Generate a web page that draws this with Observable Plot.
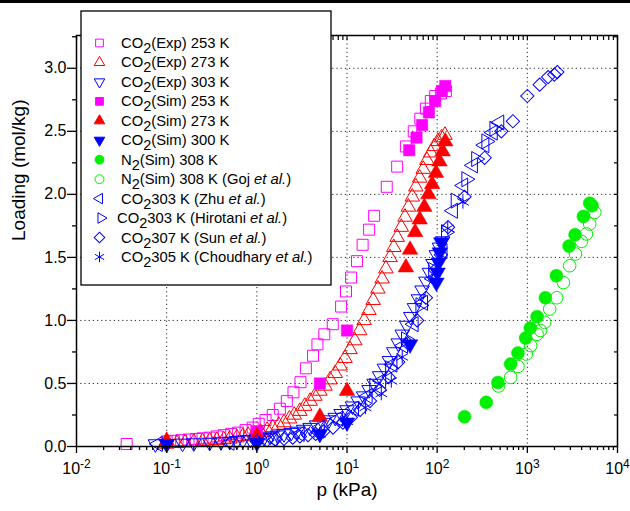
<!DOCTYPE html>
<html><head><meta charset="utf-8">
<script src="https://cdn.jsdelivr.net/npm/d3@7"></script>
<script src="https://cdn.jsdelivr.net/npm/@observablehq/plot@0.6"></script>
<style>
body{margin:0;background:#fff;}
#wrap{position:relative;width:630px;height:511px;}
#topbar{position:absolute;left:0;top:0;width:630px;height:3px;background:#000;}
svg text{font-family: "Liberation Sans", Arial, sans-serif;}
</style></head><body><div id="wrap"><div id="chart"></div><div id="topbar"></div></div>
<script>
// ---- data: [pressure kPa, loading mol/kg] ----
const co2Exp253 = [[0.036,0.02],[0.1,0.04],[0.12,0.045],[0.145,0.05],[0.175,0.055],[0.21,0.06],[0.25,0.065],[0.3,0.07],[0.36,0.08],[0.43,0.09],[0.52,0.1],[0.62,0.11],[0.75,0.13],[0.9,0.15],[1.05,0.18],[1.25,0.21],[1.5,0.25],[1.8,0.3],[2.15,0.36],[2.55,0.43],[3.05,0.51],[3.5,0.62],[4.2,0.72],[4.7,0.81],[5.6,0.89],[6.95,0.97],[8.6,1.11],[9.75,1.23],[11.1,1.34],[12.9,1.47],[14.9,1.6],[17.6,1.72],[20,1.83],[27.6,2.06],[36,2.22],[45,2.38],[55,2.5],[65,2.6],[75,2.68],[85,2.74],[95,2.78],[110,2.8],[125,2.82]];
const co2Exp273 = [[0.1,0.02],[0.13,0.025],[0.16,0.03],[0.2,0.035],[0.25,0.04],[0.3,0.045],[0.36,0.05],[0.43,0.055],[0.5,0.06],[0.6,0.07],[0.7,0.08],[0.8,0.09],[0.95,0.1],[1.1,0.115],[1.3,0.13],[1.5,0.15],[1.75,0.17],[2.0,0.19],[2.3,0.22],[2.6,0.25],[3.0,0.28],[3.4,0.32],[3.9,0.36],[4.4,0.4],[5.0,0.44],[5.7,0.48],[6.5,0.53],[7.4,0.58],[8.4,0.64],[9.5,0.7],[10.8,0.77],[12.2,0.84],[13.8,0.92],[15.5,1.0],[17.5,1.08],[19.5,1.16],[22,1.25],[24.5,1.33],[27,1.41],[30,1.5],[33,1.58],[36,1.66],[40,1.74],[44,1.82],[48,1.9],[53,1.98],[58,2.06],[64,2.13],[70,2.2],[77,2.27],[85,2.33],[93,2.38],[102,2.42],[112,2.45],[122,2.47]];
const co2Exp303 = [[0.075,0.02],[0.1,0.022],[0.15,0.025],[0.2,0.028],[0.3,0.032],[0.4,0.036],[0.5,0.04],[0.6,0.045],[0.7,0.05],[0.85,0.055],[1.0,0.06],[1.2,0.07],[1.4,0.08],[1.7,0.09],[2.0,0.1],[2.4,0.11],[2.8,0.12],[3.3,0.135],[3.9,0.15],[4.6,0.17],[5.4,0.19],[6.3,0.21],[7.4,0.23],[8.6,0.26],[10,0.29],[11.5,0.32],[13.3,0.36],[15.3,0.4],[17.6,0.45],[20,0.5],[23,0.56],[26,0.62],[29.5,0.68],[33,0.75],[37,0.82],[41,0.89],[46,0.96],[51,1.03],[56,1.1],[62,1.17],[68,1.24],[75,1.31],[82,1.38],[90,1.45],[98,1.52],[106,1.58],[115,1.63]];
const co2Sim253 = [[1.0,0.12],[5,0.5],[10,0.92],[49,2.35],[59,2.45],[68,2.55],[81,2.65],[95,2.74],[113,2.82],[123,2.86]];
const co2Sim273 = [[0.1,0.045],[1,0.085],[5,0.235],[10,0.44],[45,1.42],[50,1.56],[57,1.7],[64,1.8],[72,1.9],[80,2.0],[88,2.08],[97,2.17],[106,2.26],[115,2.34],[123,2.42]];
const co2Sim300 = [[0.1,0.02],[1,0.03],[5,0.1],[10,0.19],[50,0.81],[98,1.3],[101,1.38],[104,1.46],[107,1.54],[111,1.62]];
const n2Sim308 = [[201,0.236],[350,0.35],[472,0.508],[653,0.654],[787,0.741],[957,0.86],[1080,0.94],[1282,1.03],[1585,1.18],[2100,1.355],[2904,1.59],[3386,1.68],[4190,1.825],[4920,1.93],[5230,1.91]];
const n2Goj308 = [[480,0.48],[653,0.548],[787,0.635],[975,0.733],[1089,0.8],[1282,0.89],[1400,0.92],[1556,0.985],[1770,1.09],[2118,1.18],[2513,1.3],[2950,1.434],[3414,1.527],[3981,1.627],[4527,1.686],[4920,1.765],[5600,1.857]];
const co2Zhu303 = [[0.08,0.02],[0.5,0.03],[1.5,0.06],[3,0.1],[5,0.15],[8,0.22],[12,0.3],[17,0.4],[24,0.52],[32,0.65],[42,0.8],[55,0.97],[70,1.14],[90,1.33],[115,1.55],[150,1.87],[195,2.07],[250,2.23],[335,2.39],[415,2.49],[490,2.57]];
const co2Hirotani303 = [[20,0.48],[30,0.62],[45,0.85],[65,1.12],[90,1.4],[125,1.7],[160,1.95],[210,2.12],[270,2.28],[350,2.42],[430,2.52]];
const co2Sun307 = [[1,0.04],[1.3,0.05],[1.6,0.055],[2,0.06],[2.5,0.07],[3,0.08],[3.7,0.09],[4.5,0.1],[5.5,0.12],[7,0.15],[9,0.19],[11,0.23],[14,0.29],[18,0.36],[23,0.45],[29,0.55],[37,0.67],[47,0.82],[60,1.0],[75,1.18],[95,1.4],[110,1.52],[132,1.74],[201,1.98],[336,2.29],[515,2.5],[692,2.58],[1000,2.78],[1370,2.87],[1700,2.93],[1990,2.95],[2150,2.97]];
const co2Choudhary305 = [[5,0.1],[10,0.2],[16,0.31],[24,0.42],[31,0.52],[41,0.71],[131,1.73],[193,1.94]];

// ---- ticks / labels ----
const xMajorTicks = [1e-2,1e-1,1,10,100,1000,1e4];
const xGridLines = [1e-1,1,10,100,1000];
const yMajorTicks = [0,0.5,1.0,1.5,2.0,2.5,3.0];
const yMinorTicks = [0.25,0.75,1.25,1.75,2.25,2.75,3.25];
const xTitle = "p (kPa)";
const yTitle = "Loading (mol/kg)";
// legend labels: "_" = subscript, "*" = italic
const legendLabels = [
  ["CO","_2","(Exp) 253 K"],
  ["CO","_2","(Exp) 273 K"],
  ["CO","_2","(Exp) 303 K"],
  ["CO","_2","(Sim) 253 K"],
  ["CO","_2","(Sim) 273 K"],
  ["CO","_2","(Sim) 300 K"],
  ["N","_2","(Sim) 308 K"],
  ["N","_2","(Sim) 308 K (Goj ","*et al.",")"],
  ["CO","_2","303 K (Zhu ","*et al.",")"],
  ["CO","_2","303 K (Hirotani ","*et al.",")"],
  ["CO","_2","307 K (Sun ","*et al.",")"],
  ["CO","_2","305 K (Choudhary ","*et al.",")"]
];

const MAG="#ff00ff", RED="#ff0000", BLU="#0000ff", GRN="#00f000";
const xMinorTicks = [];
for (let e=-2;e<4;e++) for (let k=2;k<=9;k++) xMinorTicks.push(k*Math.pow(10,e));

const series = [
  {data:co2Exp253, symbol:"square", r:6.2, color:MAG, filled:false, rotate:0},
  {data:co2Exp273, symbol:"triangle", r:5.4, color:RED, filled:false, rotate:0},
  {data:co2Exp303, symbol:"triangle", r:5.4, color:BLU, filled:false, rotate:180},
  {data:co2Sim253, symbol:"square", r:6.4, color:MAG, filled:true, rotate:0},
  {data:co2Sim273, symbol:"triangle", r:5.8, color:RED, filled:true, rotate:0},
  {data:co2Sim300, symbol:"triangle", r:5.8, color:BLU, filled:true, rotate:180},
  {data:n2Sim308, symbol:"circle", r:6.5, color:GRN, filled:true, rotate:0},
  {data:n2Goj308, symbol:"circle", r:6.3, color:GRN, filled:false, rotate:0},
  {data:co2Zhu303, symbol:"triangle", r:5.6, color:BLU, filled:false, rotate:-90},
  {data:co2Hirotani303, symbol:"triangle", r:5.6, color:BLU, filled:false, rotate:90},
  {data:co2Sun307, symbol:"square", r:5.3, color:BLU, filled:false, rotate:45},
  {data:co2Choudhary305, symbol:"asterisk", r:6.4, color:BLU, filled:false, rotate:0}
];

const blank = () => "";
const marks = [
  Plot.gridX(xGridLines, {stroke:"#000", strokeOpacity:0.85, strokeDasharray:"1.2,3", strokeWidth:1}),
  Plot.gridY(yMajorTicks.filter(d=>d>0), {stroke:"#000", strokeOpacity:0.85, strokeDasharray:"1.2,3", strokeWidth:1}),
  ...series.map(s => Plot.dot(s.data, {
    x: d=>d[0], y: d=>d[1], symbol: s.symbol, r: s.r, rotate: s.rotate,
    fill: s.filled ? s.color : "none", stroke: s.color, strokeWidth: s.filled ? 0.5 : 1
  })),
  Plot.frame({stroke:"#000", strokeWidth:1.5}),
  Plot.axisX(xMajorTicks, {anchor:"bottom", tickSize:7, tickPadding:9, fontSize:16, strokeWidth:1.3, label:null,
    tickFormat: d => "E" + String(Math.round(Math.log10(d)))}),
  Plot.axisX(xMinorTicks, {anchor:"bottom", tickSize:4, strokeWidth:1.3, label:null, tickFormat: blank}),
  Plot.axisX(xMajorTicks.concat(xMinorTicks), {anchor:"top", tickSize:4, dy:4, strokeWidth:1.2, label:null, tickFormat: blank}),
  Plot.axisY(yMajorTicks, {anchor:"left", tickSize:9, tickPadding:1, fontSize:16, strokeWidth:1.3, label:null,
    tickFormat: d3.format(".1f")}),
  Plot.axisY(yMinorTicks, {anchor:"left", tickSize:4, strokeWidth:1.3, label:null, tickFormat: blank}),
  Plot.axisY(yMajorTicks.concat(yMinorTicks), {anchor:"right", tickSize:4, dx:-4, strokeWidth:1.2, label:null, tickFormat: blank}),
  Plot.text([yTitle], {frameAnchor:"left", rotate:-90, dx:-58, fontSize:19, fill:"#000"}),
  Plot.text([xTitle], {frameAnchor:"bottom", dy:49, fontSize:19, fill:"#000"})
];

const svg = Plot.plot({
  width:630, height:511,
  marginLeft:76, marginRight:13, marginTop:35, marginBottom:65,
  style:{background:"#fff", color:"#000", fontFamily:"'Liberation Sans', Arial, sans-serif"},
  x:{type:"log", domain:[1e-2,1e4]},
  y:{domain:[0,3.26]},
  marks
});
document.getElementById("chart").appendChild(svg);

// remove empty tick labels; superscript exponents on major x tick labels
d3.select(svg).selectAll("text").each(function(){
  const s = this.textContent;
  if (s === "") { this.remove(); return; }
  if (s.startsWith("E")) {
    const t = d3.select(this);
    t.text("10");
    t.append("tspan").attr("dy","-0.5em").attr("font-size","0.75em").text(s.slice(1));
  }
});

// legend
const lg = d3.select(svg).append("g").attr("font-size", 14.8).attr("fill","#000").attr("text-anchor","start");
lg.append("rect").attr("x",81).attr("y",11).attr("width",250).attr("height",274)
  .attr("fill","#fff").attr("stroke","#000").attr("stroke-width",1.3);
const symMap = {square:d3.symbolSquare, triangle:d3.symbolTriangle, circle:d3.symbolCircle, asterisk:d3.symbolAsterisk};
const legendSizes = {square:60, triangle:48, circle:62, asterisk:80};
series.forEach((s,i) => {
  const y = 43 + i*19.45;
  const hir = i===9;
  const sx = hir ? 101 : 99.5;
  const size = s.rotate===45 ? 56 : legendSizes[s.symbol];
  lg.append("path").attr("d", d3.symbol(symMap[s.symbol], size)())
    .attr("transform", `translate(${sx},${y}) rotate(${s.rotate})`)
    .attr("fill", s.filled ? s.color : "none").attr("stroke", s.color).attr("stroke-width", 1);
  const t = lg.append("text").attr("x", hir ? 117 : 121).attr("y", y+5).attr("text-anchor","start");
  let shift = 0;
  legendLabels[i].forEach(seg => {
    if (seg.startsWith("_")) {
      t.append("tspan").attr("dy", 5).attr("font-size", 14.5).text(seg.slice(1)); shift = 5;
    } else {
      const sp = t.append("tspan").attr("dy", -shift).text(seg.startsWith("*") ? seg.slice(1) : seg);
      if (seg.startsWith("*")) sp.attr("font-style","italic");
      shift = 0;
    }
  });
});
</script></body></html>
